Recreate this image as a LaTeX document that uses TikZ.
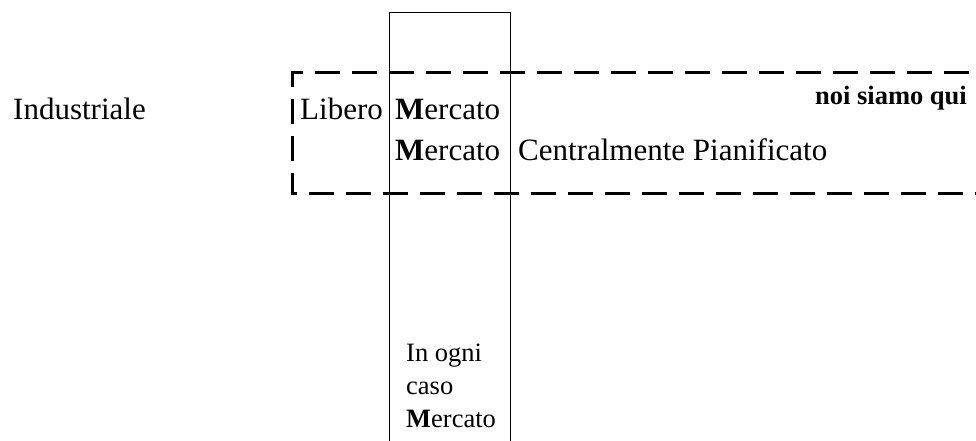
\documentclass[tikz,border=0pt]{standalone}
\usepackage{fontspec}
\setmainfont{Liberation Serif}
\usepackage{tikz}
\tikzset{
  grande/.style={inner sep=0pt,anchor=base west,font=\fontsize{31}{40}\selectfont},
  piccolo/.style={inner sep=0pt,font=\fontsize{26.5}{33}\selectfont},
  tratteggio/.style={line width=3pt,dash pattern=on 25pt off 12pt,dash phase=30pt},
}
\begin{document}
\begin{tikzpicture}[x=1pt,y=-1pt]
  \useasboundingbox (0,0) rectangle (976,441);
  \draw[line width=0.8pt] (389,441) -- (389,12) -- (510,12) -- (510,441);
  \draw[tratteggio] (976,73) -- (292,73) -- (292,193) -- (976,193);
  \node[grande] (industriale) at (13,119) {Industriale};
  \node[grande] (libero) at (300,119) {Libero};
  \node[grande] (mercatoA) at (395,119) {\textbf{M}ercato};
  \node[grande] (mercatoB) at (395,160) {\textbf{M}ercato};
  \node[grande] (pianificato) at (518,160) {Centralmente Pianificato};
  \node[piccolo,anchor=base east] (noi) at (967,105) {\textbf{noi siamo qui}};
  \node[piccolo,anchor=north west,align=left] (ognicaso) at (406,344)
    {In ogni\\caso\\\textbf{M}ercato};
\end{tikzpicture}
\end{document}
